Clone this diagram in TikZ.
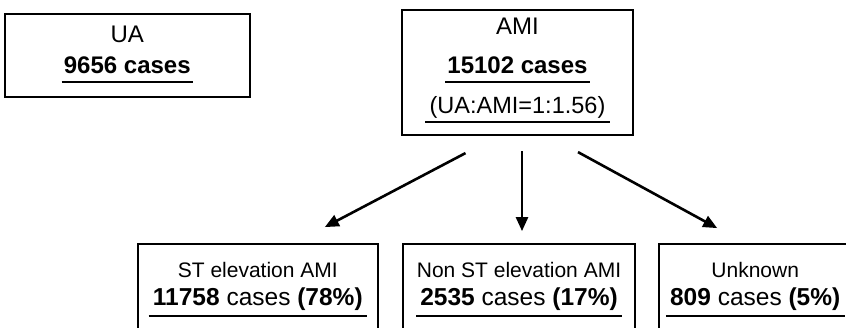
\documentclass[tikz,border=0pt]{standalone}
\usepackage{fontspec}
\setmainfont{Liberation Sans}
\usetikzlibrary{positioning, arrows.meta}
\tikzset{
	node distance=1cm and 1.5cm,
	every text node part/.style= {
		align=center
	},
	box/.style= {
		rectangle,
		black,
		draw,
		line width=2.2pt,
		minimum width=231pt,
		minimum height=120pt
	},
	txt/.style= {
		font=\fontsize{24}{28}\selectfont,
		inner xsep=4pt,
		inner ysep=4pt,
		text height=15pt,
		text depth=4pt
	},
	title/.style= {
		txt,
		font=\fontsize{21}{25}\selectfont
	},
	count/.style= {
		txt,
		font=\fontsize{24.5}{28}\selectfont,
		inner ysep=6pt
	},
	uline/.style= {
		line width=1.8pt
	},
	arrow/.style= {
		line width=2.6pt,
		-{Triangle[length=14pt, width=12pt]}
	}
}

\begin{document}
\begin{tikzpicture}[x=1pt, y=-1pt]
	\useasboundingbox (0,0) rectangle (846,327);
	\clip (0,0) rectangle (846,327);
	
	\node (ami)[box, minimum height=125pt] at (517.5,72.5) {};
	\node (ua)[box, minimum width=245pt, minimum height=83pt, left=150pt of ami.north west, anchor=north east, yshift=-4pt] {};
	
	\node (uaTitle)[txt] at ([yshift=-24pt]ua.north) {UA};
	\node (uaCount)[txt, inner xsep=2pt] at ([yshift=-55pt]ua.north) {\textbf{9656 cases}};
	\draw[uline] (uaCount.south west) -- (uaCount.south east);
	
	\node (amiTitle)[txt] at ([yshift=-20pt]ami.north) {AMI};
	\node (amiCount)[txt, inner xsep=2pt] at ([yshift=-59pt]ami.north) {\textbf{15102 cases}};
	\node (amiRatio)[txt, font=\fontsize{23.5}{27}\selectfont] at ([yshift=-99pt]ami.north) {(UA:AMI=1:1.56)};
	\draw[uline] (amiCount.south west) -- (amiCount.south east);
	\draw[uline] (amiRatio.south west) -- (amiRatio.south east);
	
	\node (nonst)[box, minimum width=232pt, below=107pt of ami, xshift=1.5pt] {};
	\node (st)[box, minimum width=240pt, left=23pt of nonst] {};
	\node (unknown)[box, minimum width=192pt, right=22pt of nonst] {};
	
	\node (stTitle)[title] at ([yshift=-29pt]st.north) {ST elevation AMI};
	\node (stCount)[count] at ([yshift=-57pt]st.north) {\textbf{11758} cases \textbf{(78\%)}};
	\draw[uline] (stCount.south west) -- (stCount.south east);
	
	\node (nonstTitle)[title] at ([yshift=-29pt]nonst.north) {Non ST elevation AMI};
	\node (nonstCount)[count] at ([yshift=-57pt]nonst.north) {\textbf{2535} cases \textbf{(17\%)}};
	\draw[uline] (nonstCount.south west) -- (nonstCount.south east);
	
	\node (unknownTitle)[title] at ([yshift=-29pt]unknown.north) {Unknown};
	\node (unknownCount)[count] at ([yshift=-57pt]unknown.north) {\textbf{809} cases \textbf{(5\%)}};
	\draw[uline] (unknownCount.south west) -- (unknownCount.south east);
	
	\draw[arrow] ([xshift=-52pt, yshift=-17pt]ami.south) to ([xshift=67pt, yshift=16pt]st.north);
	\draw[arrow] ([xshift=4.5pt, yshift=-15pt]ami.south) to ([xshift=3pt, yshift=12pt]nonst.north);
	\draw[arrow] ([xshift=60.5pt, yshift=-16pt]ami.south) to ([xshift=-38pt, yshift=15pt]unknown.north);
	
\end{tikzpicture}
\end{document}
